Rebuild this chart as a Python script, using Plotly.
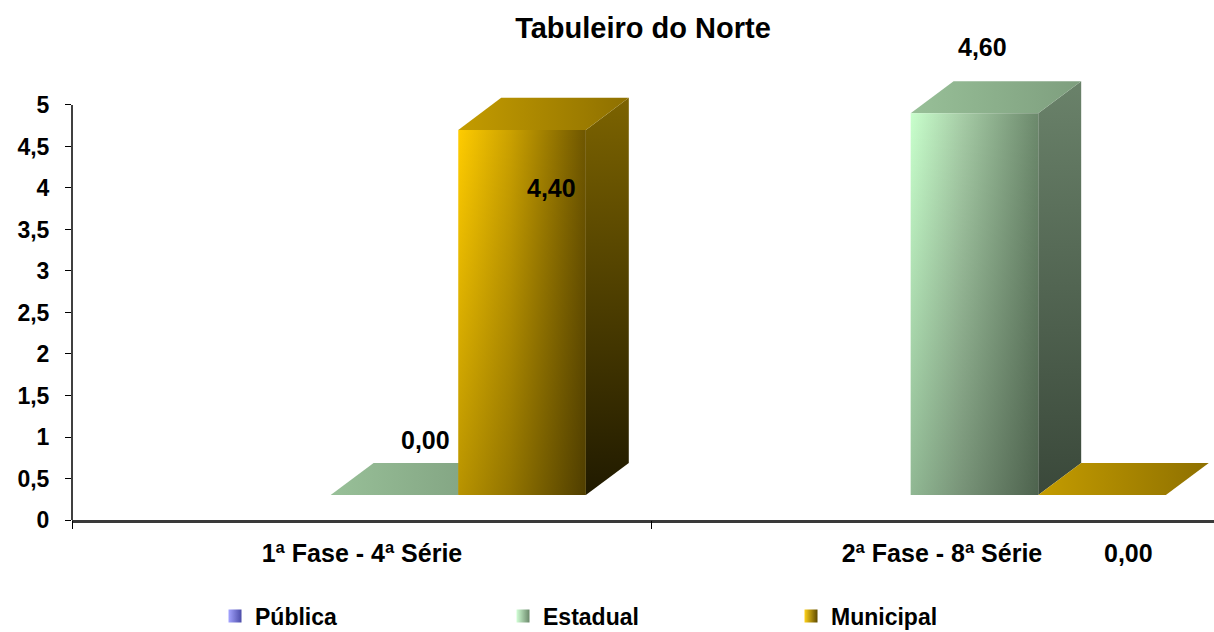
import plotly.graph_objects as go

# ---------------- data ----------------
title_text = "Tabuleiro do Norte"
categories = ["1ª Fase - 4ª Série", "2ª Fase - 8ª Série"]
series_names = ["Pública", "Estadual", "Municipal"]
publica = [None, None]
estadual = [0.00, 4.60]
municipal = [4.40, 0.00]
y_tick_values = [0, 0.5, 1, 1.5, 2, 2.5, 3, 3.5, 4, 4.5, 5]
y_tick_labels = ["0", "0,5", "1", "1,5", "2", "2,5", "3", "3,5", "4", "4,5", "5"]

series_values = {"Pública": publica, "Estadual": estadual, "Municipal": municipal}

# ---------------- style ----------------
FONT = "Liberation Sans, Arial, sans-serif"
BAR_W = 0.22          # bar width in category units
GROUP_SHIFT = 0.056   # 3D projection shift of the bar group
FRONT_BASE = 0.30     # projected floor of the front faces (axis units)
DEPTH_X = 0.074       # depth projection (category units)
DEPTH_Y = 0.386       # depth projection (axis units)
Y_MAX = 5.542
X_RANGE = [-0.5, 1.469]

styles = {
    "Pública": dict(legend=[[0, "#A4A4FF"], [1, "#4C4CA8"]]),
    "Estadual": dict(
        legend=[[0, "#D2FFD6"], [1, "#6A886A"]],
        front=[[0, "#C8FFCC"], [0.4, "#A6CCA6"], [1, "#6C896C"]],
        side=[[0, "#3A483A"], [1, "#6A826A"]],     # bottom -> top
        top=[[0, "#98C098"], [1, "#7E9E7E"]],
    ),
    "Municipal": dict(
        legend=[[0, "#FFD21A"], [1, "#5E4A00"]],
        front=[[0, "#FFCC00"], [0.4, "#CCA200"], [1, "#6E5600"]],
        side=[[0, "#201A00"], [1, "#7C6300"]],     # bottom -> top
        top=[[0, "#C49C00"], [1, "#8E7000"]],
    ),
}
# label placement offsets (pixels) relative to the top of each bar's front face
LABEL_SHIFT = {("Estadual", 0): (10, 55), ("Municipal", 0): (8, -58),
               ("Estadual", 1): (-13, 66), ("Municipal", 1): (5, -58)}

fig = go.Figure()


def poly(xs, ys, gtype, scale):
    fig.add_trace(go.Scatter(
        x=xs + [xs[0]], y=ys + [ys[0]], mode="lines", fill="toself",
        line=dict(width=0), hoverinfo="skip", showlegend=False,
        fillgradient=dict(type=gtype, colorscale=scale),
    ))


n_series = len(series_names)
for ci, cat in enumerate(categories):
    for si, name in enumerate(series_names):
        v = series_values[name][ci]
        if v is None:
            continue
        st = styles[name]
        center = ci + GROUP_SHIFT + (si - (n_series - 1) / 2) * BAR_W
        x0, x1 = center - BAR_W / 2, center + BAR_W / 2
        yb, yt = FRONT_BASE, FRONT_BASE + v
        if v > 0:
            # side face
            poly([x1, x1 + DEPTH_X, x1 + DEPTH_X, x1],
                 [yb, yb + DEPTH_Y, yt + DEPTH_Y, yt], "vertical", st["side"])
        # top face
        poly([x0, x1, x1 + DEPTH_X, x0 + DEPTH_X],
             [yt, yt, yt + DEPTH_Y, yt + DEPTH_Y], "horizontal", st["top"])
        if v > 0:
            # front face
            poly([x0, x1, x1, x0], [yb, yb, yt, yt], "horizontal", st["front"])
            poly([x0, x1, x1, x0], [yb, yb, yt, yt], "vertical",
                 [[0, "rgba(0,0,0,0.28)"], [1, "rgba(0,0,0,0)"]])
        dx, dy = LABEL_SHIFT[(name, ci)]
        fig.add_annotation(
            x=center + DEPTH_X / 2, y=yt, text=f"{v:.2f}".replace(".", ","),
            showarrow=False, xshift=dx, yshift=dy,
            font=dict(family=FONT, size=25, color="black", weight="bold"),
        )

# legend entries
for name in series_names:
    c0, c1 = styles[name]["legend"][0][1], styles[name]["legend"][-1][1]
    fig.add_trace(go.Scatter(
        x=[None], y=[None], mode="markers", name=name,
        marker=dict(symbol="square", size=13, color=c0,
                    gradient=dict(type="horizontal", color=c1)),
    ))

# divider ticks on a companion axis
fig.add_trace(go.Scatter(x=[None], y=[None], xaxis="x2", showlegend=False, hoverinfo="skip"))

fig.add_shape(type="line", xref="paper", x0=0, x1=0, yref="y", y0=0, y1=5,
              line=dict(color="black", width=1.5))

fig.update_layout(
    width=1214, height=632,
    margin=dict(l=72, r=0, t=60, b=112),
    paper_bgcolor="white", plot_bgcolor="white",
    title=dict(text=title_text, x=0.5, xref="paper", y=1 - 28 / 632, yref="container",
               yanchor="middle", xanchor="center",
               font=dict(family=FONT, size=29, color="black", weight="bold")),
    xaxis=dict(range=X_RANGE, tickvals=[0, 1], ticktext=categories,
               showline=True, linecolor="#3a3a3a", linewidth=2.5, ticks="",
               showgrid=False, zeroline=False, ticklabelstandoff=9,
               tickfont=dict(family=FONT, size=25, color="black", weight="bold")),
    xaxis2=dict(range=X_RANGE, overlaying="x", anchor="y", side="bottom",
                tickvals=[-0.5, 0.5, 1.5], ticks="outside", ticklen=8,
                tickcolor="black", showticklabels=False, showgrid=False,
                zeroline=False, showline=False),
    yaxis=dict(range=[0, Y_MAX], tickvals=y_tick_values, ticktext=y_tick_labels,
               ticks="outside", ticklen=6, tickcolor="black", showline=False,
               showgrid=False, zeroline=False, ticklabelstandoff=11,
               tickfont=dict(family=FONT, size=23, color="black", weight="bold")),
    legend=dict(orientation="h", xref="container", yref="container",
                x=215 / 1214, y=16 / 632, yanchor="middle", xanchor="left",
                entrywidth=243, bgcolor="rgba(0,0,0,0)",
                font=dict(family=FONT, size=23, color="black", weight="bold")),
    showlegend=True,
)

fig.write_html("out.html", config={"displayModeBar": False},
               post_script="document.body.style.margin='0px';document.body.style.padding='0px';")
